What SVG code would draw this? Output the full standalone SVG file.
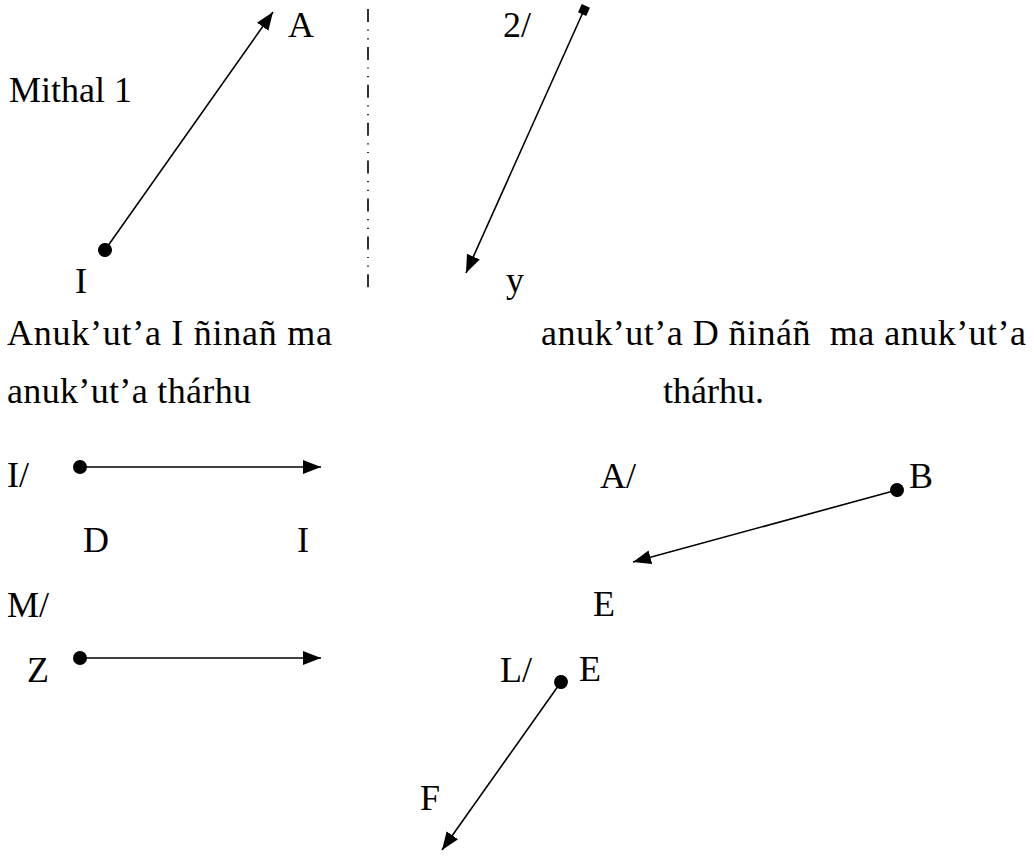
<svg xmlns="http://www.w3.org/2000/svg" width="1034" height="857" viewBox="0 0 1034 857">
<style>
.c{stroke:#000;stroke-width:1.6;fill:none}
.d{stroke:#000;stroke-width:1.6;fill:none;stroke-dasharray:13 7.5 1.2 7.5 1.2 7.5}
</style>
<defs>
<marker id="arr" markerUnits="userSpaceOnUse" markerWidth="20" markerHeight="16" refX="18" refY="8" orient="auto"><path d="M0,1 L18,8 L0,15 z" fill="#000"/></marker>
<marker id="dot" markerUnits="userSpaceOnUse" markerWidth="16" markerHeight="16" refX="8" refY="8" orient="auto"><circle cx="8" cy="8" r="7" fill="#000"/></marker>
<marker id="sq" markerUnits="userSpaceOnUse" markerWidth="12" markerHeight="12" refX="6" refY="6" orient="auto"><rect x="1.5" y="1.5" width="9" height="9" fill="#000"/></marker>
</defs>
<rect width="1034" height="857" fill="#fff"/>
<g id="labels" fill="#000">
<text x="9" y="102" font-family="Liberation Serif" font-size="36">Mithal 1</text>
<text x="288" y="37" font-family="Liberation Serif" font-size="36">A</text>
<text x="75" y="293" font-family="Liberation Serif" font-size="36">I</text>
<text x="503" y="37" font-family="Liberation Serif" font-size="36">2/</text>
<text x="506" y="292" font-family="Liberation Serif" font-size="36">y</text>
<text x="7" y="345" font-family="Liberation Serif" font-size="36" textLength="325" lengthAdjust="spacing">Anuk’ut’a I ñinañ ma</text>
<text x="7" y="403" font-family="Liberation Serif" font-size="36" textLength="244" lengthAdjust="spacing">anuk’ut’a thárhu</text>
<text x="541" y="345" font-family="Liberation Serif" font-size="36" xml:space="preserve" textLength="485" lengthAdjust="spacing">anuk’ut’a D ñináñ  ma anuk’ut’a</text>
<text x="663" y="403" font-family="Liberation Serif" font-size="36">thárhu.</text>
<text x="7" y="487" font-family="Liberation Serif" font-size="36">I/</text>
<text x="83" y="552" font-family="Liberation Serif" font-size="36">D</text>
<text x="297" y="552" font-family="Liberation Serif" font-size="36">I</text>
<text x="7" y="617" font-family="Liberation Serif" font-size="36">M/</text>
<text x="27" y="682" font-family="Liberation Serif" font-size="36">Z</text>
<text x="600" y="488" font-family="Liberation Serif" font-size="36">A/</text>
<text x="909" y="488" font-family="Liberation Serif" font-size="36">B</text>
<text x="593" y="616" font-family="Liberation Serif" font-size="36">E</text>
<text x="500" y="682" font-family="Liberation Serif" font-size="36">L/</text>
<text x="579" y="681" font-family="Liberation Serif" font-size="36">E</text>
<text x="420" y="810" font-family="Liberation Serif" font-size="36">F</text>
</g>
<g id="connectors">
<line class="d" x1="368" y1="9" x2="368" y2="290"/>
<line class="c" x1="105" y1="250" x2="273" y2="12" marker-start="url(#dot)" marker-end="url(#arr)"/>
<line class="c" x1="584" y1="10" x2="466" y2="273" marker-start="url(#sq)" marker-end="url(#arr)"/>
<line class="c" x1="80" y1="467" x2="321" y2="467" marker-start="url(#dot)" marker-end="url(#arr)"/>
<line class="c" x1="80" y1="658" x2="321" y2="658" marker-start="url(#dot)" marker-end="url(#arr)"/>
<line class="c" x1="897" y1="490" x2="633" y2="562" marker-start="url(#dot)" marker-end="url(#arr)"/>
<line class="c" x1="561" y1="682" x2="442" y2="850" marker-start="url(#dot)" marker-end="url(#arr)"/>
</g>
</svg>
